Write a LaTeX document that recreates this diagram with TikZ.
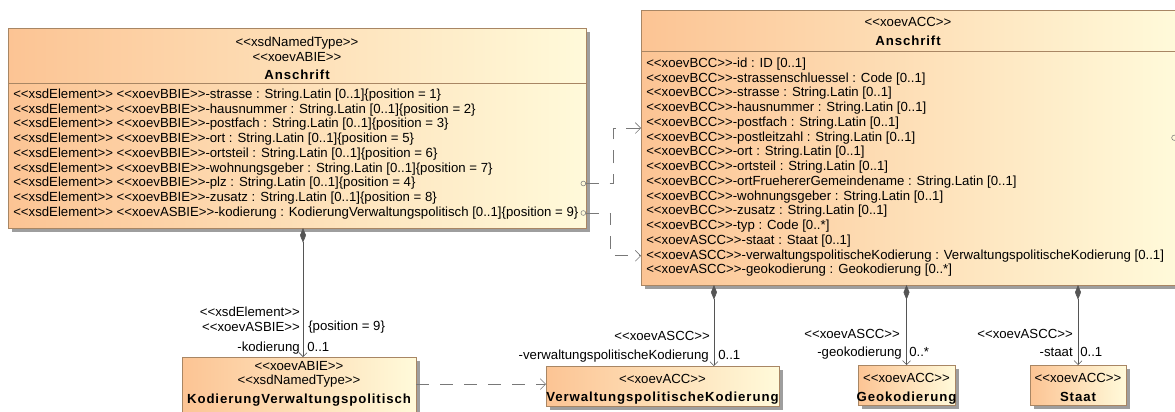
\documentclass[tikz,border=0pt]{standalone}
\usepackage{fontspec}
\setmainfont{Liberation Sans}[Ligatures=TeXOff]
\usepackage{tikz}
\usetikzlibrary{arrows.meta}
\usetikzlibrary{positioning}
\usetikzlibrary{shadows}
\definecolor{clsOrange}{RGB}{252,196,148}
\definecolor{clsCream}{RGB}{255,250,218}
\definecolor{clsBorder}{RGB}{168,134,100}
\definecolor{connGray}{RGB}{85,85,85}
\definecolor{dashGray}{RGB}{120,120,120}
\newcommand{\stereo}[1]{<<#1>>}
\newcommand{\clsname}[1]{{\bfseries\addfontfeatures{LetterSpace=7}#1}}
\tikzset{cls/.style = {draw = clsBorder, left color = clsOrange, right color = clsCream,
                       anchor = north west, inner sep = 0, outer sep = 0,
                       general shadow = {fill = black!38, shadow xshift = 3pt, shadow yshift = -3pt}}}
\tikzset{attr/.style = {anchor = west, inner sep = 0, text height = 7pt, text depth = 2pt}}
\tikzset{hdr/.style = {inner sep = 0, align = center}}
\tikzset{lbl/.style = {inner sep = 0, text height = 7pt, text depth = 2pt}}
\tikzset{comp/.style = {draw = connGray, {Diamond[length = 11pt, width = 4.5pt]}-{Straight Barb[length = 3pt, width = 6pt]}}}
\tikzset{real/.style = {draw = dashGray, dash pattern = on 10pt off 8pt,
                        {Circle[open, length = 4pt, width = 4pt]}-{Straight Barb[length = 4pt, width = 8pt]}}}
\tikzset{dep/.style = {draw = dashGray, dash pattern = on 10pt off 8pt, -{Straight Barb[length = 4pt, width = 8pt]}}}

\begin{document}
\begin{tikzpicture}[x=0.75pt, y=-0.75pt, font=\fontsize{9.9}{11}\selectfont]
      \useasboundingbox (0, 0) rectangle (1175, 411);
      \clip (0, 0) rectangle (1175, 411);

      \node (ansL) at (8, 28) [cls, minimum width = 433.5pt, minimum height = 150pt] {};
      \draw [clsBorder] (ansL.west |- 0, 83) -- (ansL.east |- 0, 83);
      \node (hL) at (297, 36.5) [hdr, anchor = north] {\stereo{xsdNamedType}\\\stereo{xoevABIE}\\[3pt]\clsname{Anschrift}};
      \node (aL1) at (13, 95) [attr] {\stereo{xsdElement} \stereo{xoevBBIE}-strasse : String.Latin [0..1]\{position = 1\}};
      \node (aL2) at (13, 109.75) [attr] {\stereo{xsdElement} \stereo{xoevBBIE}-hausnummer : String.Latin [0..1]\{position = 2\}};
      \node (aL3) at (13, 124.5) [attr] {\stereo{xsdElement} \stereo{xoevBBIE}-postfach : String.Latin [0..1]\{position = 3\}};
      \node (aL4) at (13, 139.25) [attr] {\stereo{xsdElement} \stereo{xoevBBIE}-ort : String.Latin [0..1]\{position = 5\}};
      \node (aL5) at (13, 154) [attr] {\stereo{xsdElement} \stereo{xoevBBIE}-ortsteil : String.Latin [0..1]\{position = 6\}};
      \node (aL6) at (13, 168.75) [attr] {\stereo{xsdElement} \stereo{xoevBBIE}-wohnungsgeber : String.Latin [0..1]\{position = 7\}};
      \node (aL7) at (13, 183.5) [attr] {\stereo{xsdElement} \stereo{xoevBBIE}-plz : String.Latin [0..1]\{position = 4\}};
      \node (aL8) at (13, 198.25) [attr] {\stereo{xsdElement} \stereo{xoevBBIE}-zusatz : String.Latin [0..1]\{position = 8\}};
      \node (aL9) at (13, 213) [attr] {\stereo{xsdElement} \stereo{xoevASBIE}-kodierung : KodierungVerwaltungspolitisch [0..1]\{position = 9\}};

      \node (ansR) at (641, 10) [cls, minimum width = 402pt, minimum height = 206.25pt] {};
      \draw [clsBorder] (ansR.west |- 0, 51) -- (ansR.east |- 0, 51);
      \node (hR) at (908, 17.5) [hdr, anchor = north] {\stereo{xoevACC}\\[3pt]\clsname{Anschrift}};
      \node (aR1) at (646, 64) [attr] {\stereo{xoevBCC}-id : ID [0..1]};
      \node (aR2) at (646, 78.75) [attr] {\stereo{xoevBCC}-strassenschluessel : Code [0..1]};
      \node (aR3) at (646, 93.5) [attr] {\stereo{xoevBCC}-strasse : String.Latin [0..1]};
      \node (aR4) at (646, 108.25) [attr] {\stereo{xoevBCC}-hausnummer : String.Latin [0..1]};
      \node (aR5) at (646, 123) [attr] {\stereo{xoevBCC}-postfach : String.Latin [0..1]};
      \node (aR6) at (646, 137.75) [attr] {\stereo{xoevBCC}-postleitzahl : String.Latin [0..1]};
      \node (aR7) at (646, 152.5) [attr] {\stereo{xoevBCC}-ort : String.Latin [0..1]};
      \node (aR8) at (646, 167.25) [attr] {\stereo{xoevBCC}-ortsteil : String.Latin [0..1]};
      \node (aR9) at (646, 182) [attr] {\stereo{xoevBCC}-ortFruehererGemeindename : String.Latin [0..1]};
      \node (aR10) at (646, 196.75) [attr] {\stereo{xoevBCC}-wohnungsgeber : String.Latin [0..1]};
      \node (aR11) at (646, 211.5) [attr] {\stereo{xoevBCC}-zusatz : String.Latin [0..1]};
      \node (aR12) at (646, 226.25) [attr] {\stereo{xoevBCC}-typ : Code [0..*]};
      \node (aR13) at (646, 241) [attr] {\stereo{xoevASCC}-staat : Staat [0..1]};
      \node (aR14) at (646, 255.75) [attr] {\stereo{xoevASCC}-verwaltungspolitischeKodierung : VerwaltungspolitischeKodierung [0..1]};
      \node (aR15) at (646, 270.5) [attr] {\stereo{xoevASCC}-geokodierung : Geokodierung [0..*]};
      \draw [dashGray] ([xshift = -2pt]ansR.east |- aR6.west) circle [radius = 2pt];

      \node (kodVP) at (182, 357) [cls, minimum width = 175.5pt, minimum height = 43.5pt] {};
      \node (tKod) [hdr, below = 2.8pt of kodVP.north] {\stereo{xoevABIE}\\\stereo{xsdNamedType}\\[3pt]\clsname{KodierungVerwaltungspolitisch}};
      \node (vpK) at (546, 366) [cls, minimum width = 174.75pt, minimum height = 30pt] {};
      \node (tVpK) [hdr, below = 5.8pt of vpK.north] {\stereo{xoevACC}\\[3pt]\clsname{VerwaltungspolitischeKodierung}};
      \node (geoK) at (858, 365) [cls, minimum width = 72.75pt, minimum height = 30pt] {};
      \node (tGeo) [hdr, below = 6.2pt of geoK.north] {\stereo{xoevACC}\\[3pt]\clsname{Geokodierung}};
      \node (staatK) at (1030, 365) [cls, minimum width = 72pt, minimum height = 30pt] {};
      \node (tStaat) [hdr, below = 6.2pt of staatK.north] {\stereo{xoevACC}\\[3pt]\clsname{Staat}};

      \draw [comp] ([xshift = 3pt]kodVP.north |- ansL.south) -- ([xshift = 3pt]kodVP.north);
      \draw [comp] ([xshift = 38.6pt]vpK.north |- ansR.south) -- ([xshift = 38.6pt]vpK.north);
      \draw [comp] (geoK.north |- ansR.south) -- (geoK.north);
      \draw [comp] (staatK.north |- ansR.south) -- (staatK.north);
      \draw [real] ([xshift = -4pt]aL7.west -| ansL.east) -- ++(33, 0) |- ([yshift = -3.75pt]aR5.west -| ansR.west);
      \draw [real] ([xshift = -4pt]aL9.west -| ansL.east) -- ++(30, 0) |- (aR14.west -| ansR.west);
      \draw [dep] ([yshift = 1.5pt]kodVP.east) -- ([yshift = 1.5pt]vpK.west |- kodVP.east);

      \node (kSt) at (300, 319.5) [inner sep = 0, align = right, left] {\stereo{xsdElement}\\\stereo{xoevASBIE}};
      \node (kPos) at (308, 327) [lbl, right] {\{position = 9\}};
      \node (kRole) at (300, 348) [lbl, left] {-kodierung};
      \node (kMul) at (307, 348) [lbl, right] {0..1};
      \node (vSt) at (710, 337) [lbl, left] {\stereo{xoevASCC}};
      \node (vRole) at (709, 356) [lbl, left] {-verwaltungspolitischeKodierung};
      \node (vMul) at (718, 356) [lbl, right] {0..1};
      \node (gSt) at (900, 335) [lbl, left] {\stereo{xoevASCC}};
      \node (gRole) at (902, 353) [lbl, left] {-geokodierung};
      \node (gMul) at (909, 353) [lbl, right] {0..*};
      \node (sSt) at (1073, 335) [lbl, left] {\stereo{xoevASCC}};
      \node (sRole) at (1073, 353) [lbl, left] {-staat};
      \node (sMul) at (1080, 353) [lbl, right] {0..1};
\end{tikzpicture}
\end{document}
